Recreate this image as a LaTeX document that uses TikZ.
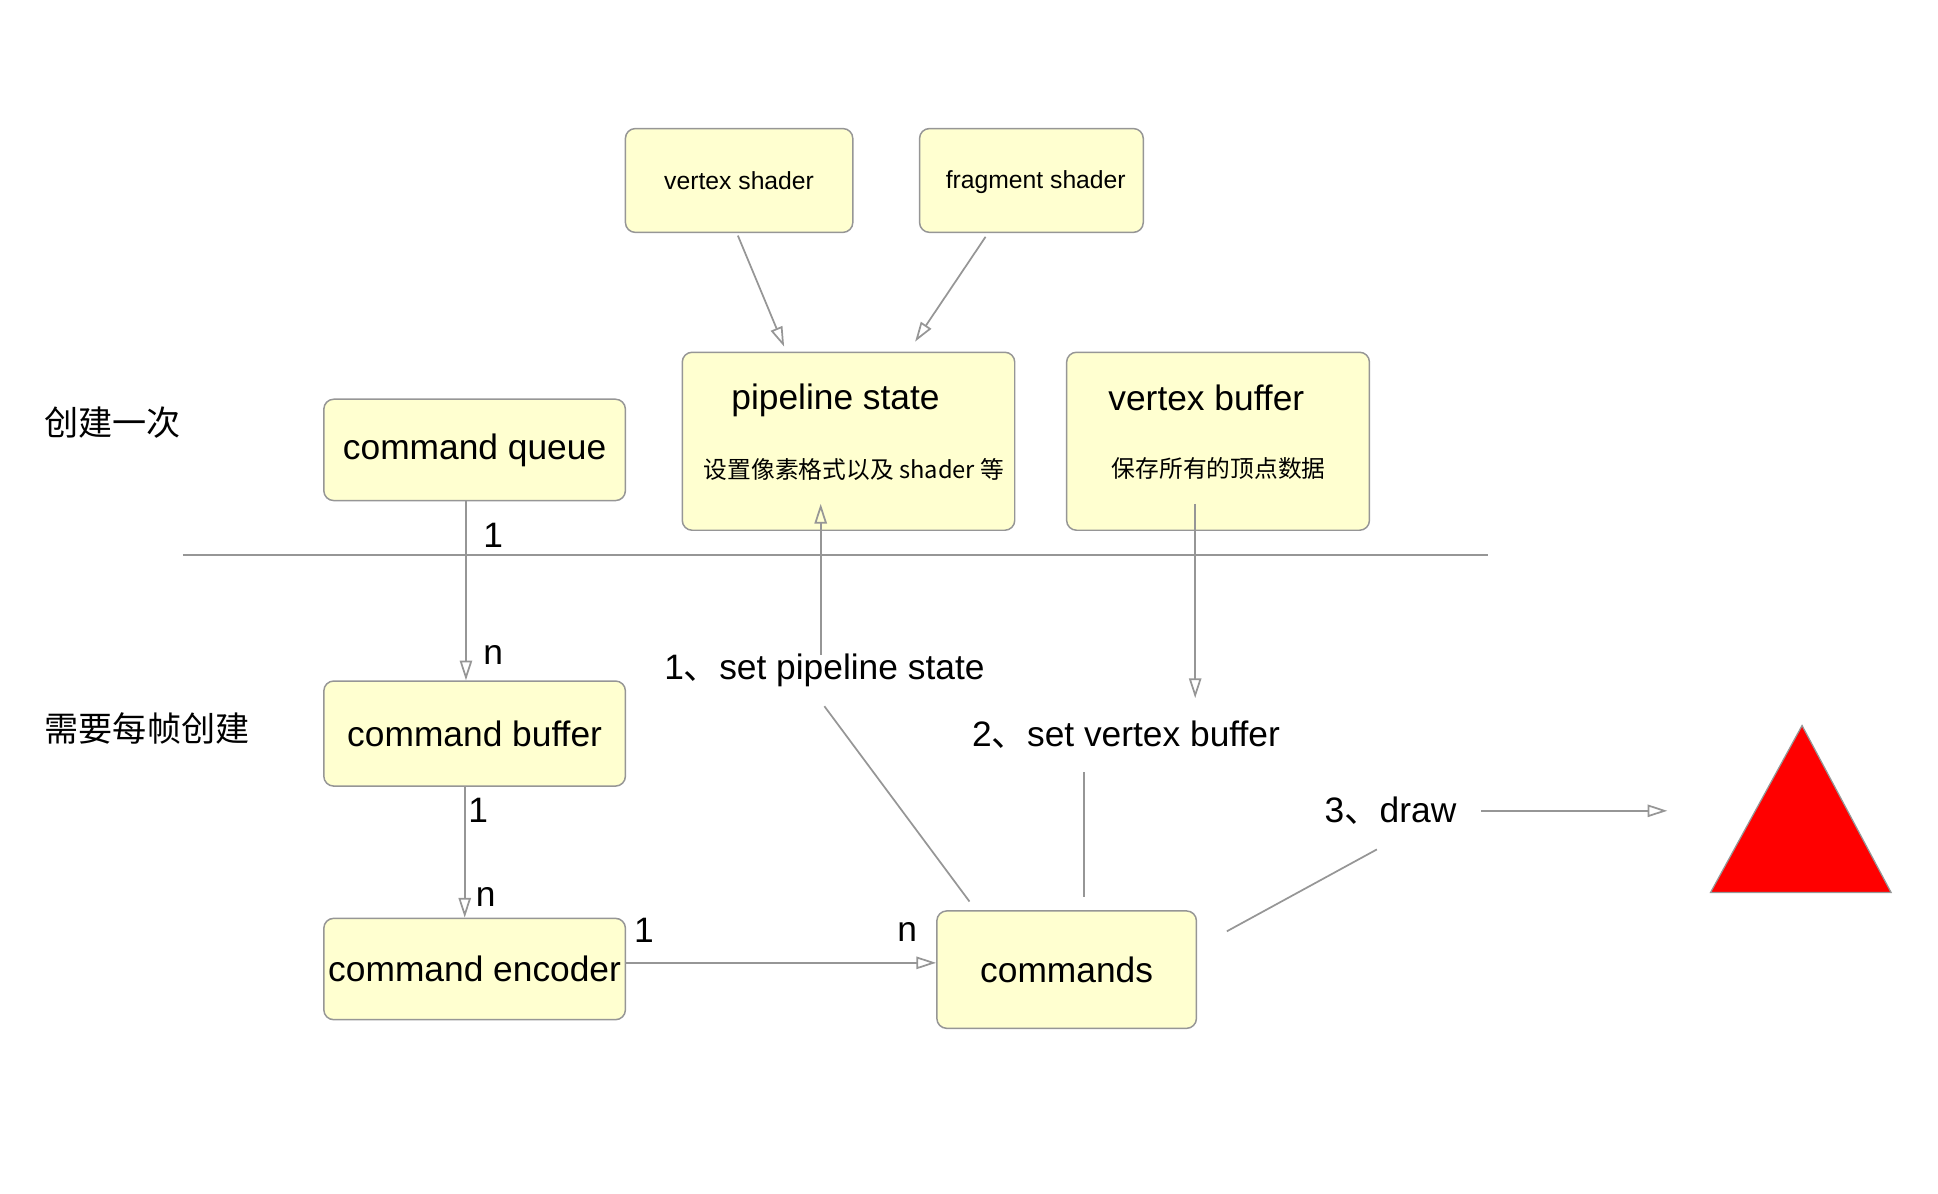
\documentclass[tikz,border=0pt]{standalone}
\usepackage{fontspec}
\setmainfont{Liberation Sans}
\newfontfamily\cjk{Noto Sans CJK SC}
\usetikzlibrary{arrows.meta,calc}
\definecolor{boxyellow}{RGB}{255,255,208}
\definecolor{linegray}{RGB}{150,150,150}

\begin{document}
\begin{tikzpicture}[x=0.5pt, y=-0.5pt,
    box/.style={rectangle, rounded corners=4pt, draw=linegray, fill=boxyellow,
                line width=0.6pt, inner sep=0pt},
    big/.style={font=\fontsize{14.3}{17}\selectfont},
    small/.style={font=\fontsize{10}{12}\selectfont},
    conn/.style={draw=linegray, line width=0.7pt},
    arr/.style={conn, -{Triangle[open, length=8pt, width=5pt]}},
]
\useasboundingbox (0,0) rectangle (1568,966);

% left labels
\node[font=\cjk\fontsize{13.8}{16}\selectfont] (once) at (91,342) {创建一次};
\node[font=\cjk\fontsize{13.8}{16}\selectfont] (perframe) at (119,589) {需要每帧创建};

% separator
\draw[linegray, line width=0.6pt] (148,449) -- (1204,449);

% shader boxes
\node[box, small, minimum width=92pt, minimum height=42pt] (vs) at (598,146) {vertex shader};
\node[box, minimum width=90.5pt, minimum height=42pt] (fs) at (834.5,146) {};
\node[small] (fstext) at (838,147) {fragment shader};

% pipeline state box
\node[box, minimum width=134.5pt, minimum height=72pt] (ps) at (686.5,357) {};
\node[big] (pstitle) at (676,324) {pipeline state};
\node[font=\cjk\fontsize{9.6}{12}\selectfont] (pssub) at (691,380) {设置像素格式以及 shader 等};

% vertex buffer box
\node[box, minimum width=122.5pt, minimum height=72pt] (vb) at (985.5,357) {};
\node[big] (vbtitle) at (976,322) {vertex buffer};
\node[font=\cjk\fontsize{9.6}{12}\selectfont] (vbsub) at (986,379) {保存所有的顶点数据};

% command chain
\node[box, big, minimum width=122pt, minimum height=41pt] (cq) at (384,364) {command queue};
\node[box, big, minimum width=122pt, minimum height=42.5pt] (cb) at (384,593.5) {command buffer};
\node[box, big, minimum width=122pt, minimum height=41pt] (ce) at (384,784) {command encoder};
\node[box, big, minimum width=105pt, minimum height=47.5pt] (cm) at (863,784.5) {commands};

% step labels
\node[big] (lp) at (667,542) {1{\cjk 、}set pipeline state};
\node[big] (lv) at (911,594) {2{\cjk 、}set vertex buffer};
\node[big] (ld) at (1125,656) {3{\cjk 、}draw};

% multiplicities
\node[big] (q1) at (399,433) {1};
\node[big] (bn) at (399,530) {n};
\node[big] (b1) at (387,656) {1};
\node[big] (en) at (393,726) {n};
\node[big] (e1) at (521,753) {1};
\node[big] (cn) at (734,754) {n};

% triangle
\coordinate (tri) at (1384,656);
\draw[linegray, fill=red, line width=0.5pt] (1458,587) -- (1530,722) -- (1384,722) -- cycle;

% connectors
\draw[arr] ($(vs.south)+(-1,2)$) -- ($(ps.north west)+(83,-4)$);
\draw[arr] ($(fs.south west)+(54,3)$) -- ($(ps.north west)+(189,-8)$);
\draw[arr] ($(cq.south)+(-7,0)$) -- ($(cb.north)+(-7,0)$);
\draw[arr] ($(cb.south)+(-8,0)$) -- ($(ce.north)+(-8,0)$);
\draw[arr] ($(ce.east)+(0,-5)$) -- ($(cm.west)+(0,-5.5)$);
\draw[conn] ($(cm.north west)+(27,-7)$) -- ($(lp.south)+(0,9)$);
\draw[arr] ($(lp.north)+(-3,8)$) -- ($(ps.south)+(-22.5,-22)$);
\draw[arr] ($(vb.south)+(-18.5,-22)$) -- ($(lv.north)+(56,-11)$);
\draw[conn] ($(cm.north)+(14,-11)$) -- ($(lv.south)+(-34,12)$);
\draw[conn] ($(cm.east)+(24,-31)$) -- ($(ld.south)+(-11,13)$);
\draw[arr] ($(ld.east)+(13,0)$) -- ($(tri)+(-35,0)$);

\end{tikzpicture}
\end{document}
